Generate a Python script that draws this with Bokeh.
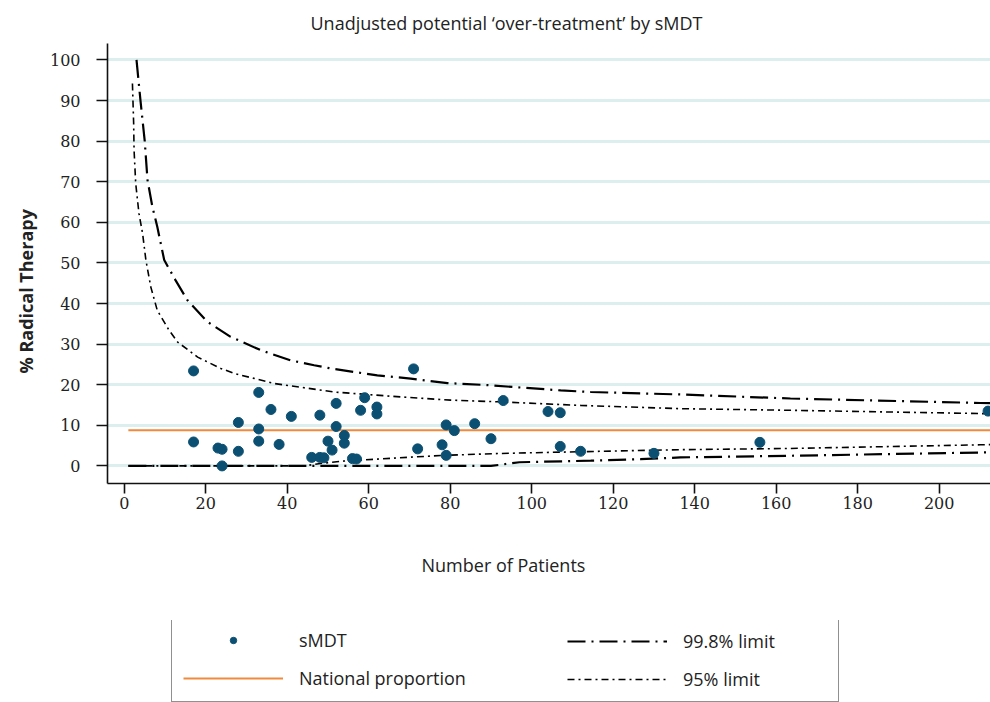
from bokeh.plotting import figure
from bokeh.layouts import column
from bokeh.models import Range1d, Title, Legend, LegendItem, FixedTicker
from bokeh.embed import file_html
from bokeh.resources import INLINE

# ---- data ----
patients = [17, 17, 23, 24, 24, 28, 28, 33, 33, 33, 36, 38, 41, 46, 48, 48, 49, 50,
            51, 52, 52, 54, 54, 56, 57, 58, 59, 62, 62, 71, 72, 78, 79, 79, 81, 86,
            90, 93, 104, 107, 107, 112, 130, 156, 212]
radical_pct = [23.4, 5.9, 4.4, 4.1, 0.0, 10.7, 3.6, 18.1, 9.1, 6.1, 13.9, 5.3, 12.2,
               2.1, 12.5, 2.1, 2.0, 6.1, 3.9, 15.4, 9.7, 7.5, 5.6, 1.8, 1.7, 13.7,
               16.8, 14.5, 12.8, 23.9, 4.2, 5.2, 2.6, 10.1, 8.7, 10.4, 6.7, 16.1,
               13.4, 13.1, 4.8, 3.6, 3.1, 5.8, 13.5]

national_n = [1, 215]
national_pct = [8.8, 8.8]

upper998_n = [3, 4, 5, 5.7, 6.9, 8.1, 9.8, 12.6, 15.5, 20.4, 26.1, 33.5, 40.8, 46.6,
              50.7, 62.1, 70.3, 79.3, 89.2, 107.1, 114.5, 136.5, 163.5, 210.1, 215]
upper998 = [100, 89.7, 80.2, 70.4, 63.8, 58.9, 50.7, 45.7, 40.8, 35.5, 31.8, 28.5,
            26.0, 24.8, 24.0, 22.3, 21.5, 20.4, 19.9, 18.6, 18.2, 17.6, 16.6, 15.5, 15.4]

upper95_n = [2.0, 2.3, 2.4, 2.8, 3.6, 4.5, 5.3, 6.5, 8.1, 11.0, 13.1, 18.0, 23.7, 26.9,
             36.8, 51.5, 67.8, 80.1, 91.6, 112, 136.5, 163.5, 210.1, 215]
upper95 = [94.2, 84.3, 77.8, 69.6, 62.2, 57.2, 50.7, 44.1, 38.3, 33.4, 30.5, 26.8,
           24.0, 22.8, 20.3, 18.2, 17.0, 16.2, 15.8, 14.9, 14.1, 13.7, 12.9, 12.8]

lower95_n = [1, 44, 49, 54, 71, 78.5, 91.6, 112, 136.5, 163.5, 210.1, 215]
lower95 = [0, 0, 0.7, 1.2, 2.2, 2.6, 3.05, 3.5, 4.0, 4.3, 5.2, 5.3]

lower998_n = [1, 90, 97, 114.5, 126.7, 136.5, 163.5, 210.1, 215]
lower998 = [0, 0, 0.9, 1.3, 1.65, 2.1, 2.5, 3.3, 3.4]

x_ticks = [0, 20, 40, 60, 80, 100, 120, 140, 160, 180, 200]
y_ticks = [0, 10, 20, 30, 40, 50, 60, 70, 80, 90, 100]

title_text = "Unadjusted potential \u2018over-treatment\u2019 by sMDT"
x_label = "Number of Patients"
y_label = "% Radical Therapy"
legend_labels = ["sMDT", "National proportion", "99.8% limit", "95% limit"]

SANS = "Open Sans"
SERIF = "DejaVu Serif"
PT_COLOR = "#0b5072"
NAT_COLOR = "#f08a3c"
TXT = "#222222"
DASH998 = "18 6 2 6"
DASH95 = "7 4 2 4"
X_RANGE = (-4.12, 212.6)
Y_RANGE = (-4.33, 104.04)


def add_series(fig, visible=True):
    r998u = fig.line(upper998_n, upper998, line_color="black", line_width=2.2,
                     line_dash=DASH998, visible=visible)
    fig.line(lower998_n, lower998, line_color="black", line_width=2.2,
             line_dash=DASH998, visible=visible)
    r95u = fig.line(upper95_n, upper95, line_color="black", line_width=1.6,
                    line_dash=DASH95, visible=visible)
    fig.line(lower95_n, lower95, line_color="black", line_width=1.6,
             line_dash=DASH95, visible=visible)
    rnat = fig.line(national_n, national_pct, line_color=NAT_COLOR, line_width=2,
                    visible=visible)
    rpts = fig.scatter(patients, radical_pct, size=10, fill_color=PT_COLOR,
                       line_color=PT_COLOR, marker="circle", visible=visible)
    return rpts, rnat, r998u, r95u


# ---------------- main chart ----------------
p = figure(width=990, height=620, output_backend="svg", toolbar_location=None,
           x_range=Range1d(*X_RANGE), y_range=Range1d(*Y_RANGE),
           min_border_left=107, min_border_right=0, min_border_top=43,
           min_border_bottom=137)
p.outline_line_color = None
p.background_fill_color = "white"
p.border_fill_color = "white"

p.title.text = title_text
p.title.align = "left"
p.title.offset = 203
p.title.standoff = 17
p.title.text_font = SANS
p.title.text_font_size = "18px"
p.title.text_font_style = "normal"
p.title.text_color = TXT

p.xgrid.visible = False
p.ygrid.ticker = FixedTicker(ticks=y_ticks)
p.ygrid.grid_line_color = "#ddeeee"
p.ygrid.grid_line_width = 3

for ax in (p.xaxis[0], p.yaxis[0]):
    ax.axis_line_color = "#111111"
    ax.axis_line_width = 1.6
    ax.major_tick_line_color = "#111111"
    ax.major_tick_line_width = 1.6
    ax.major_tick_in = 0
    ax.minor_tick_line_color = None
    ax.major_label_text_font = SERIF
    ax.major_label_text_font_size = "16px"
    ax.major_label_text_color = TXT
p.xaxis[0].ticker = FixedTicker(ticks=x_ticks)
p.yaxis[0].ticker = FixedTicker(ticks=y_ticks)
p.xaxis[0].major_tick_out = 10
p.xaxis[0].major_label_standoff = 3
p.yaxis[0].major_tick_out = 11
p.yaxis[0].major_label_standoff = 16

xt = Title(text=x_label, align="left", offset=314, standoff=78,
           text_font=SANS, text_font_size="18px", text_font_style="normal",
           text_color=TXT)
p.add_layout(xt, "below")
yt = Title(text=y_label, align="left", offset=110, standoff=18,
           text_font=SANS, text_font_size="18px", text_font_style="bold",
           text_color=TXT)
p.add_layout(yt, "left")

add_series(p)

# ---------------- legend strip ----------------
lf = figure(width=990, height=82, output_backend="svg", toolbar_location=None,
            x_axis_type=None, y_axis_type=None,
            min_border_left=107, min_border_right=0, min_border_top=0,
            min_border_bottom=0,
            x_range=Range1d(*X_RANGE), y_range=Range1d(*Y_RANGE))
lf.outline_line_color = None
lf.background_fill_color = "white"
lf.border_fill_color = "white"

# hidden copies of the series: they only feed the legend keys
k_pts, k_nat, k_998, k_95 = add_series(lf, visible=False)

common = dict(glyph_width=100, glyph_height=16, label_height=23, spacing=14,
              padding=11, label_standoff=16, label_text_font=SANS,
              label_text_font_size="18px", label_text_color=TXT, margin=0,
              click_policy="none")
leg_a = Legend(items=[LegendItem(label=legend_labels[0], renderers=[k_pts]),
                      LegendItem(label=legend_labels[1], renderers=[k_nat])],
               location=(64, 0), label_width=528,
               border_line_color="#222222", border_line_width=1.5,
               background_fill_color="white", background_fill_alpha=1, **common)
leg_b = Legend(items=[LegendItem(label=legend_labels[2], renderers=[k_998]),
                      LegendItem(label=legend_labels[3], renderers=[k_95])],
               location=(460, 11), border_line_color=None,
               background_fill_alpha=0, **common)
lf.add_layout(leg_a, "center")
lf.add_layout(leg_b, "center")

layout = column(p, lf, spacing=0)
open("out.html", "w").write(file_html(layout, INLINE))
